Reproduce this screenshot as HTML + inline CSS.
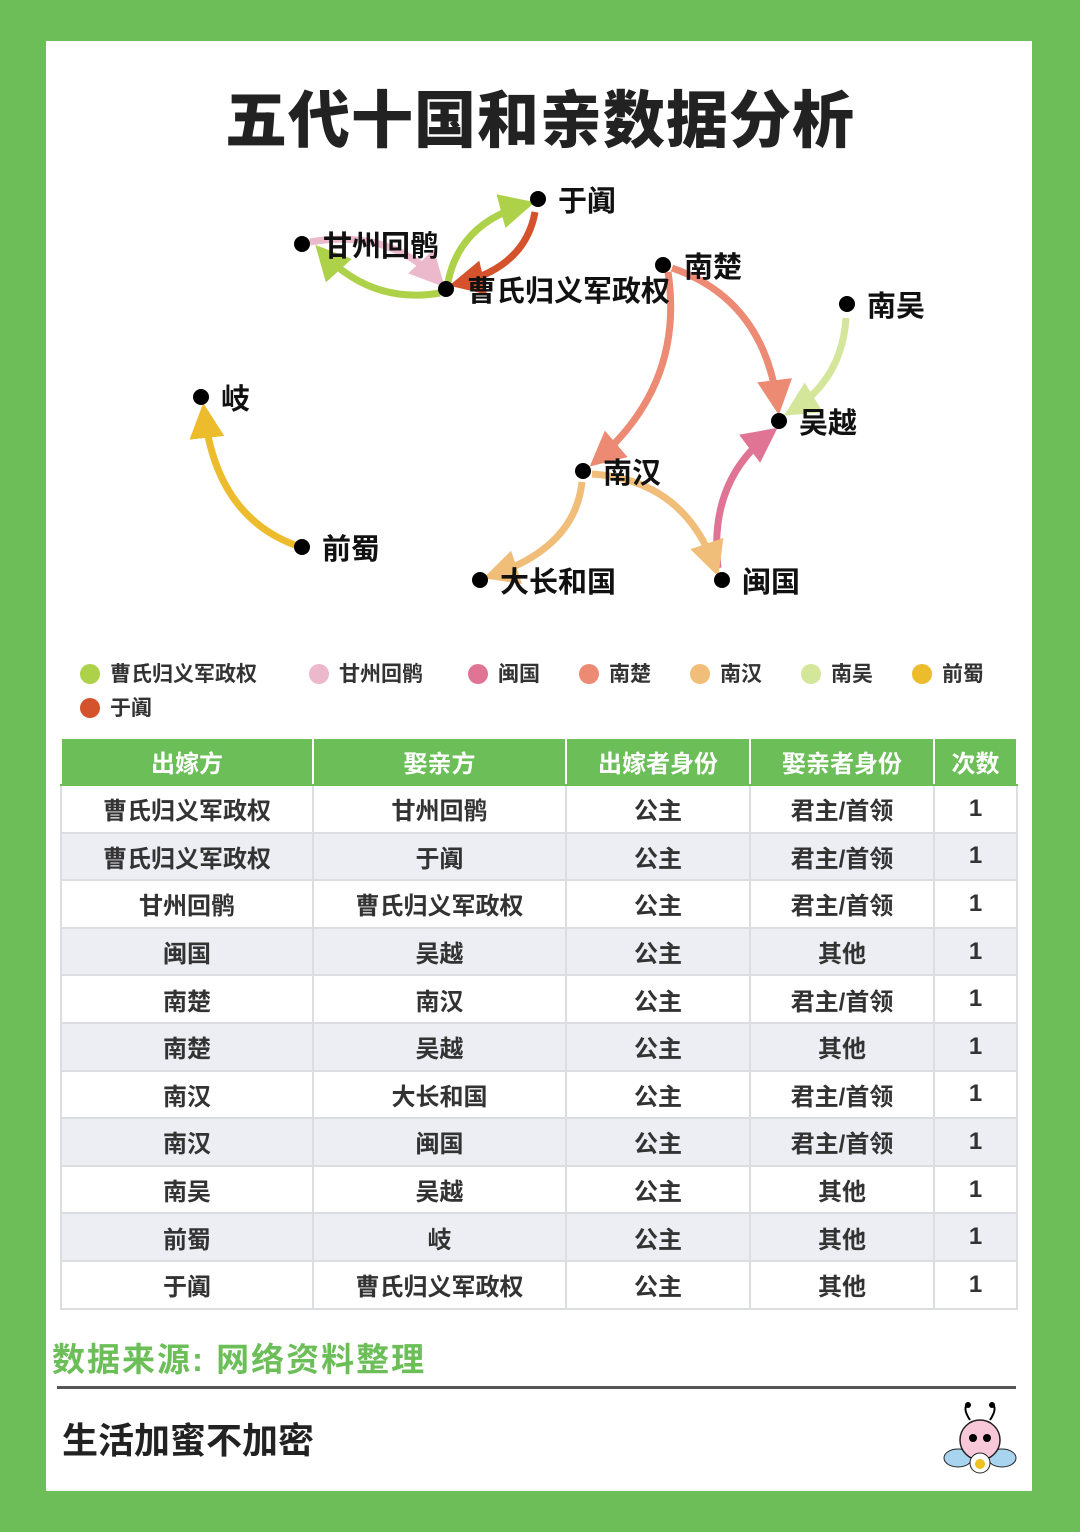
<!DOCTYPE html>
<html><head><meta charset="utf-8"><style>
body{margin:0;width:1080px;height:1532px;background:#6dbd58;position:relative;overflow:hidden;font-family:"Liberation Sans","Noto Sans CJK SC",sans-serif}
.panel{position:absolute;left:46px;top:41px;width:986px;height:1450px;background:#fff}
.t{position:absolute;white-space:nowrap}
table{position:absolute;left:60px;top:737px;border-collapse:collapse;font-size:24px;font-weight:bold;color:#333}
td{border:2px solid #dcdde0;text-align:center;height:45.6px;padding:0}
tr.h td{background:#6cbf58;color:#fff;border-color:#fff #fff #6cbf58 #fff;height:45px}
tr:nth-child(odd):not(.h) td{background:#eceef3}
.lg{position:absolute;font-size:21px;color:#333;font-weight:bold;white-space:nowrap}
.lg i{display:inline-block;width:20px;height:20px;border-radius:50%;vertical-align:-3px;margin-right:10px}
</style></head><body>
<div class="panel"></div>
<div class="t" style="left:0;width:1080px;text-align:center;top:70px;font-size:62px;font-weight:900;color:#222;letter-spacing:1px">五代十国和亲数据分析</div>
<svg style="position:absolute;left:0;top:0" width="1080" height="640">
<defs>
<marker id="mg" viewBox="0 0 10 10" refX="8" refY="5" markerWidth="5" markerHeight="5" orient="auto"><path d="M0,0L10,5L0,10z" fill="#aed14a"/></marker>
<marker id="mp" viewBox="0 0 10 10" refX="8" refY="5" markerWidth="5" markerHeight="5" orient="auto"><path d="M0,0L10,5L0,10z" fill="#ebb8cc"/></marker>
<marker id="mr" viewBox="0 0 10 10" refX="8" refY="5" markerWidth="5" markerHeight="5" orient="auto"><path d="M0,0L10,5L0,10z" fill="#d4532c"/></marker>
<marker id="mc" viewBox="0 0 10 10" refX="8" refY="5" markerWidth="5" markerHeight="5" orient="auto"><path d="M0,0L10,5L0,10z" fill="#ec8a74"/></marker>
<marker id="mo" viewBox="0 0 10 10" refX="8" refY="5" markerWidth="5" markerHeight="5" orient="auto"><path d="M0,0L10,5L0,10z" fill="#f0be78"/></marker>
<marker id="ml" viewBox="0 0 10 10" refX="8" refY="5" markerWidth="5" markerHeight="5" orient="auto"><path d="M0,0L10,5L0,10z" fill="#d3e69a"/></marker>
<marker id="mm" viewBox="0 0 10 10" refX="8" refY="5" markerWidth="5" markerHeight="5" orient="auto"><path d="M0,0L10,5L0,10z" fill="#e07495"/></marker>
<marker id="my" viewBox="0 0 10 10" refX="8" refY="5" markerWidth="5" markerHeight="5" orient="auto"><path d="M0,0L10,5L0,10z" fill="#ecbc2c"/></marker>
</defs>
<g fill="none" stroke-width="7">
<path d="M310,242 Q390,228 440,282" stroke="#ebb8cc" marker-end="url(#mp)"/>
<path d="M440,293 Q370,305 320,250" stroke="#aed14a" marker-end="url(#mg)"/>
<path d="M448,282 Q460,222 528,204" stroke="#aed14a" marker-end="url(#mg)"/>
<path d="M535,212 Q525,268 456,284" stroke="#d4532c" marker-end="url(#mr)"/>
<path d="M668,272 Q685,385 595,462" stroke="#ec8a74" marker-end="url(#mc)"/>
<path d="M672,268 Q765,300 778,408" stroke="#ec8a74" marker-end="url(#mc)"/>
<path d="M846,318 Q842,380 790,412" stroke="#d3e69a" marker-end="url(#ml)"/>
<path d="M718,568 Q708,480 772,432" stroke="#e07495" marker-end="url(#mm)"/>
<path d="M582,482 Q575,548 490,576" stroke="#f0be78" marker-end="url(#mo)"/>
<path d="M592,474 Q685,480 716,570" stroke="#f0be78" marker-end="url(#mo)"/>
<path d="M295,545 Q215,515 204,410" stroke="#ecbc2c" marker-end="url(#my)"/>
</g>
<g fill="#000">
<circle cx="538" cy="199" r="8"/><circle cx="302" cy="244" r="8"/><circle cx="446" cy="289" r="8"/><circle cx="663" cy="265" r="8"/><circle cx="847" cy="304" r="8"/><circle cx="779" cy="421" r="8"/><circle cx="201" cy="397" r="8"/><circle cx="583" cy="471" r="8"/><circle cx="302" cy="547" r="8"/><circle cx="480" cy="580" r="8"/><circle cx="722" cy="580" r="8"/>
</g>
<g font-size="29" font-weight="bold" fill="#111" font-family="Liberation Sans, Noto Sans CJK SC, sans-serif">
<text x="558" y="211">于阗</text><text x="323" y="256">甘州回鹘</text><text x="467" y="301">曹氏归义军政权</text><text x="684" y="277">南楚</text><text x="867" y="316">南吴</text><text x="799" y="433">吴越</text><text x="221" y="409">岐</text><text x="603" y="483">南汉</text><text x="322" y="559">前蜀</text><text x="500" y="592">大长和国</text><text x="742" y="592">闽国</text>
</g>
</svg>
<div class="lg" style="left:80px;top:658px"><i style="background:#aed14a"></i>曹氏归义军政权</div>
<div class="lg" style="left:309px;top:658px"><i style="background:#ebb8cc"></i>甘州回鹘</div>
<div class="lg" style="left:468px;top:658px"><i style="background:#e07495"></i>闽国</div>
<div class="lg" style="left:579px;top:658px"><i style="background:#ec8a74"></i>南楚</div>
<div class="lg" style="left:690px;top:658px"><i style="background:#f0be78"></i>南汉</div>
<div class="lg" style="left:801px;top:658px"><i style="background:#d3e69a"></i>南吴</div>
<div class="lg" style="left:912px;top:658px"><i style="background:#ecbc2c"></i>前蜀</div>
<div class="lg" style="left:80px;top:692px"><i style="background:#d4532c"></i>于阗</div>
<table>
<colgroup><col style="width:252px"><col style="width:253px"><col style="width:184px"><col style="width:184px"><col style="width:83px"></colgroup>
<tr class="h"><td>出嫁方</td><td>娶亲方</td><td>出嫁者身份</td><td>娶亲者身份</td><td>次数</td></tr>
<tr><td>曹氏归义军政权</td><td>甘州回鹘</td><td>公主</td><td>君主/首领</td><td>1</td></tr>
<tr><td>曹氏归义军政权</td><td>于阗</td><td>公主</td><td>君主/首领</td><td>1</td></tr>
<tr><td>甘州回鹘</td><td>曹氏归义军政权</td><td>公主</td><td>君主/首领</td><td>1</td></tr>
<tr><td>闽国</td><td>吴越</td><td>公主</td><td>其他</td><td>1</td></tr>
<tr><td>南楚</td><td>南汉</td><td>公主</td><td>君主/首领</td><td>1</td></tr>
<tr><td>南楚</td><td>吴越</td><td>公主</td><td>其他</td><td>1</td></tr>
<tr><td>南汉</td><td>大长和国</td><td>公主</td><td>君主/首领</td><td>1</td></tr>
<tr><td>南汉</td><td>闽国</td><td>公主</td><td>君主/首领</td><td>1</td></tr>
<tr><td>南吴</td><td>吴越</td><td>公主</td><td>其他</td><td>1</td></tr>
<tr><td>前蜀</td><td>岐</td><td>公主</td><td>其他</td><td>1</td></tr>
<tr><td>于阗</td><td>曹氏归义军政权</td><td>公主</td><td>其他</td><td>1</td></tr>
</table>
<div class="t" style="left:52px;top:1333px;font-size:33px;font-weight:bold;color:#6cbf58;letter-spacing:2px">数据来源: 网络资料整理</div>
<div style="position:absolute;left:57px;top:1386px;width:959px;height:3px;background:#555"></div>
<div class="t" style="left:62px;top:1412px;font-size:36px;font-weight:bold;color:#222">生活加蜜不加密</div>
<svg style="position:absolute;left:940px;top:1400px" width="80" height="85">
<path d="M30,20 Q22,8 28,4 M50,20 Q58,8 52,4" stroke="#000" stroke-width="2" fill="none"/>
<circle cx="28" cy="5" r="3"/><circle cx="52" cy="5" r="3"/>
<ellipse cx="18" cy="58" rx="14" ry="9" fill="#a8d4f0" stroke="#222"/>
<ellipse cx="62" cy="58" rx="14" ry="9" fill="#a8d4f0" stroke="#222"/>
<circle cx="40" cy="40" r="20" fill="#f9c8d8" stroke="#222" stroke-width="1.5"/>
<circle cx="33" cy="38" r="4"/><circle cx="47" cy="38" r="4"/>
<ellipse cx="40" cy="63" rx="10" ry="10" fill="#fff" stroke="#222"/>
<circle cx="40" cy="64" r="5" fill="#f0c020"/>
</svg>
</body></html>
